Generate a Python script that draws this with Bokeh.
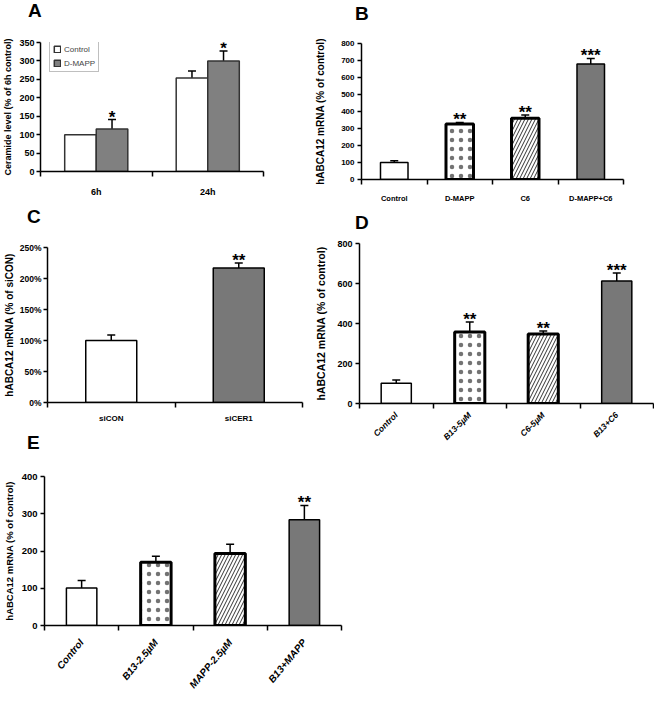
import math
from bokeh.plotting import figure
from bokeh.layouts import row, column
from bokeh.models import (Range1d, FixedTicker, Whisker, TeeHead, ColumnDataSource,
                          Legend, LegendItem, NumeralTickFormatter, Div)
from bokeh.core.properties import value
from bokeh.embed import file_html
from bokeh.resources import INLINE

# ---------------- data ----------------
A_GROUPS = ["6h", "24h"]
A_SERIES = ["Control", "D-MAPP"]
A_CONTROL = [100, 254]
A_CONTROL_SD = [0, 19]
A_MAPP = [115, 300]
A_MAPP_SD = [26, 27]
A_MAPP_SIG = ["*", "*"]
A_YTICKS = [0, 50, 100, 150, 200, 250, 300, 350]

B_CATS = ["Control", "D-MAPP", "C6", "D-MAPP+C6"]
B_VALUES = [100, 327, 360, 680]
B_SD = [10, 8, 19, 32]
B_SIG = ["", "**", "**", "***"]
B_YTICKS = [0, 100, 200, 300, 400, 500, 600, 700, 800]

C_CATS = ["siCON", "siCER1"]
C_VALUES = [1.00, 2.17]
C_SD = [0.09, 0.08]
C_SIG = ["", "**"]
C_YTICKS = [0, 0.5, 1.0, 1.5, 2.0, 2.5]

D_CATS = ["Control", "B13-5µM", "C6-5µM", "B13+C6"]
D_VALUES = [101, 357, 348, 612]
D_SD = [17, 50, 14, 40]
D_SIG = ["", "**", "**", "***"]
D_YTICKS = [0, 200, 400, 600, 800]

E_CATS = ["Control", "B13-2.5µM", "MAPP-2.5µM", "B13+MAPP"]
E_VALUES = [101, 170, 193, 284]
E_SD = [20, 16, 25, 38]
E_SIG = ["", "", "", "**"]
E_YTICKS = [0, 100, 200, 300, 400]

BAR_STYLES_4 = ["plain", "dot", "diag", "gray"]
BAR_STYLES_2 = ["plain", "gray"]

# ---------------- styles ----------------
SANS = "Liberation Sans"
GRAY = "#787878"
FILL = {"plain": "white", "dot": "white", "diag": "white", "gray": GRAY}
HATCH = {"plain": " ", "dot": "dot", "diag": "right_diagonal_line", "gray": " "}
HSCALE = {"plain": 8, "dot": 9, "diag": 7, "gray": 8}
HALPHA = {"plain": 1.0, "dot": 0.55, "diag": 0.8, "gray": 1.0}
LW = {"plain": 1.5, "dot": 3, "diag": 3, "gray": 1.5}
LETTER_H = 24


def base_fig(w, h, lb, rb, tb, bb, n, ymax):
    p = figure(width=w, height=h, output_backend="svg", toolbar_location=None,
               x_range=Range1d(0.5, n + 0.5), y_range=Range1d(0, ymax),
               min_border_left=lb, min_border_right=rb, min_border_top=tb,
               min_border_bottom=bb, border_fill_color=None, outline_line_color=None)
    p.xgrid.visible = False
    p.ygrid.visible = False
    return p


def style_y(p, ticks, size, label, lsize, lstand, tstand=3, fmt=None):
    ax = p.yaxis[0]
    ax.ticker = FixedTicker(ticks=ticks)
    ax.major_tick_out = 4
    ax.major_tick_in = 0
    ax.minor_tick_out = 0
    ax.minor_tick_in = 0
    ax.axis_line_width = 1.5
    ax.axis_line_color = "black"
    ax.major_tick_line_width = 1.5
    ax.major_tick_line_color = "black"
    ax.major_label_text_font = SANS
    ax.major_label_text_font_size = size
    ax.major_label_text_font_style = "bold"
    ax.major_label_text_color = "black"
    ax.major_label_standoff = tstand
    ax.axis_label = label
    ax.axis_label_text_font = SANS
    ax.axis_label_text_font_size = lsize
    ax.axis_label_text_font_style = "bold"
    ax.axis_label_text_color = "black"
    ax.axis_label_standoff = lstand
    if fmt is not None:
        ax.formatter = fmt


def style_x(p, cats, size, fstyle, standoff, orientation="horizontal"):
    n = len(cats)
    centers = list(range(1, n + 1))
    bounds = [i + 0.5 for i in range(n + 1)]
    ax = p.xaxis[0]
    ax.ticker = FixedTicker(ticks=centers, minor_ticks=bounds)
    ax.major_tick_out = 0
    ax.major_tick_in = 0
    ax.minor_tick_out = 5
    ax.minor_tick_in = 0
    ax.minor_tick_line_width = 1.5
    ax.minor_tick_line_color = "black"
    ax.axis_line_width = 1.5
    ax.axis_line_color = "black"
    ax.major_label_overrides = {c: lab for c, lab in zip(centers, cats)}
    ax.major_label_text_font = SANS
    ax.major_label_text_font_size = size
    ax.major_label_text_font_style = fstyle
    ax.major_label_text_color = "black"
    ax.major_label_standoff = standoff
    ax.major_label_orientation = orientation


def add_errors(p, xs, vals, sds):
    keep = [i for i, s in enumerate(sds) if s > 0]
    src = ColumnDataSource(dict(x=[xs[i] for i in keep], lo=[vals[i] for i in keep],
                                hi=[vals[i] + sds[i] for i in keep]))
    w = Whisker(base="x", lower="lo", upper="hi", source=src, dimension="height",
                line_color="black", line_width=1.5, lower_head=None,
                upper_head=TeeHead(size=8, line_color="black", line_width=1.5))
    p.add_layout(w)


def add_stars(p, xs, vals, sds, sigs, size="17px", off=-3):
    src = ColumnDataSource(dict(x=xs, y=[v + s for v, s in zip(vals, sds)], t=sigs))
    p.text(x="x", y="y", text="t", source=src, text_align="center",
           text_baseline="alphabetic", y_offset=off, text_font=value(SANS),
           text_font_size=size, text_font_style="bold", text_color="black")


def with_letter(p, letter, left, top):
    """Panel letter as an HTML div laid under the plot's transparent border."""
    d = Div(text=letter, width=30, height=LETTER_H,
            styles={"font-family": SANS, "font-size": "19px", "font-weight": "bold",
                    "color": "black", "line-height": "normal"})
    d.margin = (top, 0, 0, left)
    p.margin = (-(LETTER_H + top), 0, 0, 0)
    return column(d, p)


def bar_panel(cats, styles, vals, sds, sigs, ymax, geom, width):
    w, h, lb, rb, tb, bb = geom
    n = len(cats)
    p = base_fig(w, h, lb, rb, tb, bb, n, ymax)
    xs = list(range(1, n + 1))
    src = ColumnDataSource(dict(
        x=xs, top=vals,
        fill=[FILL[s] for s in styles],
        hatch=[HATCH[s] for s in styles],
        hs=[HSCALE[s] for s in styles],
        ha=[HALPHA[s] for s in styles],
        lw=[LW[s] for s in styles]))
    p.vbar(x="x", top="top", width=width, source=src, fill_color="fill",
           hatch_pattern="hatch", hatch_scale="hs", hatch_color="black", hatch_weight=1,
           hatch_alpha="ha", line_color="black", line_width="lw")
    add_errors(p, xs, vals, sds)
    add_stars(p, xs, vals, sds, sigs)
    return p


# ---------------- panel A ----------------
gA = (312, 205, 37, 49, 42, 34)
pA = base_fig(*gA, len(A_GROUPS), 350)
xa = list(range(1, len(A_GROUPS) + 1))
bw = 0.283
xc = [x - bw / 2 for x in xa]
xm = [x + bw / 2 for x in xa]
rc = pA.vbar(x=xc, top=A_CONTROL, width=bw, fill_color="white", line_color="#333333", line_width=1.5)
rm = pA.vbar(x=xm, top=A_MAPP, width=bw, fill_color="#808080", line_color="#333333", line_width=1.5)
add_errors(pA, xc, A_CONTROL, A_CONTROL_SD)
add_errors(pA, xm, A_MAPP, A_MAPP_SD)
add_stars(pA, xm, A_MAPP, A_MAPP_SD, A_MAPP_SIG, off=-2)
style_y(pA, A_YTICKS, "9px", "Ceramide level (% of 6h control)", "9px", 3, tstand=2)
style_x(pA, A_GROUPS, "9px", "bold", 10)
leg = Legend(items=[LegendItem(label=A_SERIES[0], renderers=[rc]),
                    LegendItem(label=A_SERIES[1], renderers=[rm])],
             location=(9, 99), border_line_color="#808080", border_line_width=1,
             background_fill_color="white", label_text_font=SANS, label_text_font_size="8px",
             glyph_width=8, glyph_height=8, label_height=10, label_standoff=3,
             padding=3, spacing=4, margin=0)
pA.add_layout(leg)

# ---------------- panel B ----------------
gB = (342, 205, 48, 31, 43, 22)
pB = bar_panel(B_CATS, BAR_STYLES_4, B_VALUES, B_SD, B_SIG, 800, gB, 0.42)
style_y(pB, B_YTICKS, "8px", "hABCA12 mRNA (% of control)", "10px", 12)
style_x(pB, B_CATS, "7.5px", "bold", 9)

# ---------------- panel C ----------------
gC = (312, 220, 43, 10, 42, 23)
pC = bar_panel(C_CATS, BAR_STYLES_2, C_VALUES, C_SD, C_SIG, 2.5, gC, 0.40)
style_y(pC, C_YTICKS, "8.5px", "hABCA12 mRNA (% of siCON)", "10px", 2, tstand=2,
        fmt=NumeralTickFormatter(format="0%"))
style_x(pC, C_CATS, "8px", "bold", 6)

# ---------------- panel D ----------------
gD = (342, 265, 45, 1, 38, 67)
pD = bar_panel(D_CATS, BAR_STYLES_4, D_VALUES, D_SD, D_SIG, 800, gD, 0.41)
style_y(pD, D_YTICKS, "9px", "hABCA12 mRNA (% of control)", "10.5px", 7)
style_x(pD, D_CATS, "8.5px", "bold italic", 5, orientation=math.pi / 4)

# ---------------- panel E ----------------
gE = (344, 279, 41, 3, 51, 79)
pE = bar_panel(E_CATS, BAR_STYLES_4, E_VALUES, E_SD, E_SIG, 400, gE, 0.41)
style_y(pE, E_YTICKS, "9.5px", "hABCA12 mRNA (% of control)", "9.5px", 4)
style_x(pE, E_CATS, "10px", "bold italic", 10, orientation=math.radians(50))

cellA = with_letter(pA, "A", 28, 0)
cellB = with_letter(pB, "B", 43, 3)
cellC = with_letter(pC, "C", 27, 1)
cellD = with_letter(pD, "D", 43, 7)
cellE = with_letter(pE, "E", 27, 7)
cellE.margin = (-45, 0, 0, 0)

layout = column(row(cellA, cellB), row(cellC, cellD), cellE)

open("out.html", "w").write(file_html(layout, INLINE))
